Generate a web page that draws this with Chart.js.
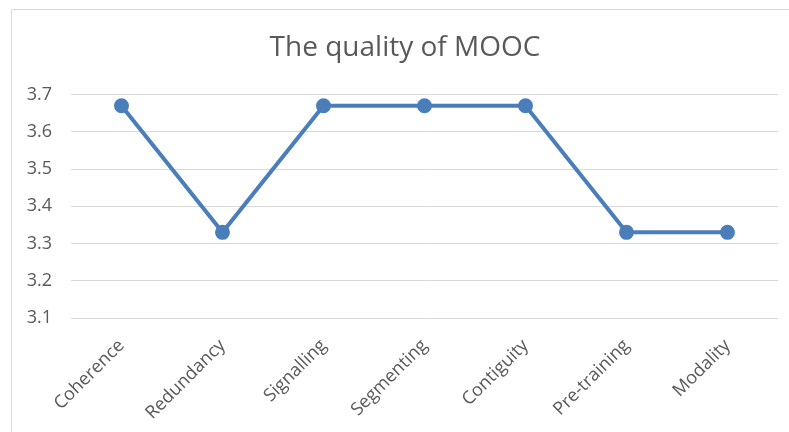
<!DOCTYPE html>
<html>
<head>
<meta charset="utf-8">
<script src="https://cdn.jsdelivr.net/npm/chart.js@4"></script>
<style>
  html, body { margin: 0; padding: 0; background: #fff; overflow: hidden; }
  .frame {
    position: absolute; left: 11px; top: 9px; width: 800px; height: 440px;
    border-left: 1px solid #d9d9d9; border-top: 1px solid #d9d9d9;
  }
  .wrap { position: absolute; left: 0; top: 0; width: 810px; height: 432px; }
</style>
</head>
<body>
<div class="frame"></div>
<div class="wrap"><canvas id="myChart" width="810" height="432"></canvas></div>
<script>
const categories = ['Coherence', 'Redundancy', 'Signalling', 'Segmenting', 'Contiguity', 'Pre-training', 'Modality']
const quality = [3.67, 3.33, 3.67, 3.67, 3.67, 3.33, 3.33]
const yTicks = [3.1, 3.2, 3.3, 3.4, 3.5, 3.6, 3.7]

const textColor = '#595959'
const font = 'Open Sans'

new Chart(
  document.getElementById('myChart'),
  {
    type: 'line',
    data: {
      labels: categories,
      datasets: [
        {
          data: quality,
          borderColor: '#4a7ebb',
          backgroundColor: '#4a7ebb',
          borderWidth: 4,
          pointRadius: 5.5,
          pointHoverRadius: 5.5,
          tension: 0
        }
      ]
    },
    options: {
      responsive: false,
      animation: false,
      layout: {
        padding: { left: 11, right: 11, top: 31, bottom: 0 }
      },
      plugins: {
        legend: { display: false },
        tooltip: { enabled: false },
        title: {
          display: true,
          text: 'The quality of MOOC',
          color: textColor,
          font: { family: font, size: 28, weight: 'normal' },
          padding: { top: 0, bottom: 30 }
        }
      },
      scales: {
        x: {
          offset: true,
          grid: { display: false },
          border: { display: false },
          ticks: {
            color: textColor,
            font: { family: font, size: 18 },
            minRotation: 45,
            maxRotation: 45,
            padding: 9
          },
          afterFit: (s) => { s.height = 114 }
        },
        y: {
          min: yTicks[0],
          max: yTicks[yTicks.length - 1],
          afterBuildTicks: (s) => { s.ticks = yTicks.map((v) => ({ value: v })) },
          grid: { color: '#d9d9d9', lineWidth: 1, drawTicks: false },
          border: { display: false },
          ticks: {
            color: textColor,
            font: { family: font, size: 18 },
            padding: 19,
            callback: (v) => v.toFixed(1)
          },
          afterFit: (s) => { s.width = 60 }
        },
        // empty right axis, only to leave the blank strip on the right
        spacer: {
          position: 'right',
          grid: { display: false },
          border: { display: false },
          ticks: { display: false },
          afterFit: (s) => { s.width = 21 }
        }
      }
    }
  }
)
</script>
</body>
</html>
